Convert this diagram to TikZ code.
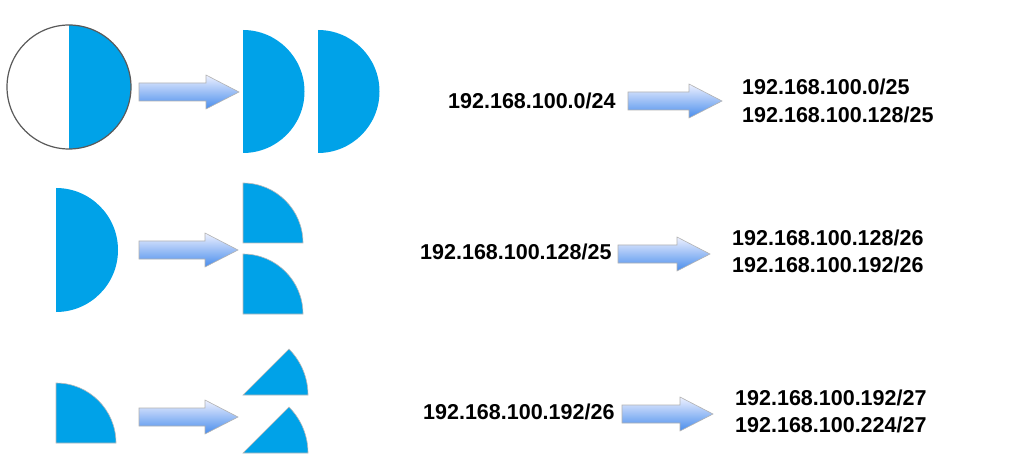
\documentclass[tikz,border=0pt]{standalone}
\usepackage{fontspec}
\setmainfont{Liberation Sans}

\definecolor{piecefill}{RGB}{0,162,232}
\definecolor{arrowtop}{RGB}{238,241,255}
\definecolor{arrowbot}{RGB}{72,140,236}

\begin{document}
\begin{tikzpicture}[x=1pt,y=1pt]
        \tikzstyle{piece}=[fill=piecefill,draw=gray!55,line width=0.6pt]
        \tikzstyle{fatarrow}=[top color=arrowtop,bottom color=arrowbot,draw=gray!60,line width=0.6pt]
        \tikzstyle{addr}=[inner sep=0pt,anchor=west,align=left,font=\fontsize{21.5}{27.5}\selectfont\bfseries]
        \fill[white] (0,0) rectangle (1011,-462);
        \useasboundingbox (0,0) rectangle (1011,-462);

        % row 1: /24 split in two halves
        \fill[piecefill] (69,-25) arc (90:-90:62) -- cycle;
        \draw[gray!70!black,line width=1.2pt] (69,-87) circle (62);
        \foreach \x in {243, 318}
                \fill[piecefill] (\x,-30) arc (90:-90:61.5) -- cycle;

        % row 2: /25 split in two quarters
        \fill[piecefill] (56,-188) arc (90:-90:62) -- cycle;
        \foreach \y in {-243, -314}
                \path[piece] (243,\y) -- (243,{\y+60}) arc (90:0:60) -- cycle;

        % row 3: /26 split in two eighths
        \path[piece] (56,-443) -- (56,-383) arc (90:0:60) -- cycle;
        \foreach \y in {-395, -453}
                \path[piece] (243,\y) -- (308,\y) arc (0:45:65) -- cycle;

        % the fat arrows
        \foreach \xa/\xb/\yc in {139/239/-92, 139/238/-250, 139/238/-417, 628/722/-101, 618/710/-254, 622/713/-414}
                \path[fatarrow] (\xa,{\yc+9}) -- ({\xb-33},{\yc+9}) -- ({\xb-33},{\yc+17}) -- (\xb,\yc)
                        -- ({\xb-33},{\yc-17}) -- ({\xb-33},{\yc-9}) -- (\xa,{\yc-9}) -- cycle;

        % addresses
        \node[addr] (net-24) at (448,-101) {192.168.100.0/24};
        \node[addr] (net-25) at (742,-101) {192.168.100.0/25\\192.168.100.128/25};
        \node[addr] (net-25b) at (420,-252) {192.168.100.128/25};
        \node[addr] (net-26) at (732,-251.5) {192.168.100.128/26\\192.168.100.192/26};
        \node[addr] (net-26b) at (423,-412) {192.168.100.192/26};
        \node[addr] (net-27) at (735,-411.5) {192.168.100.192/27\\192.168.100.224/27};
\end{tikzpicture}
\end{document}
